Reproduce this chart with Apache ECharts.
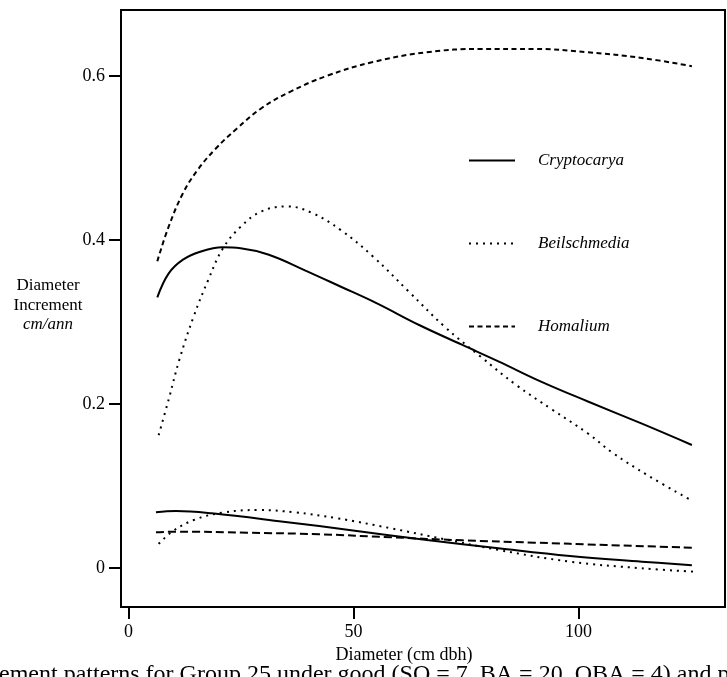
<!DOCTYPE html>
<html>
<head>
<meta charset="utf-8">
<script src="https://cdn.jsdelivr.net/npm/echarts@6/dist/echarts.min.js"></script>
<style>
  html, body { margin: 0; padding: 0; background: #fff; }
  #chart { width: 727px; height: 677px; }
</style>
</head>
<body>
<div id="chart"></div>
<script>
// diameter increment (cm/ann) against diameter (cm dbh)
// upper curves = good site, lower curves = poor site
const cryptoGood = [[6.4, 0.330], [8.9, 0.359], [12.1, 0.376], [16.1, 0.386], [20.9, 0.391], [24.9, 0.390], [31.2, 0.382], [39.2, 0.363], [47.2, 0.343], [55.1, 0.323], [64.7, 0.296], [74.2, 0.272], [82.2, 0.252], [91.8, 0.227], [102.1, 0.203], [114.1, 0.176], [125.2, 0.150]];
const beilGood = [[6.7, 0.162], [8.9, 0.205], [11.3, 0.254], [14.5, 0.307], [17.7, 0.351], [20.9, 0.389], [24.9, 0.416], [29.6, 0.435], [35.2, 0.441], [40.8, 0.433], [47.2, 0.412], [54.3, 0.380], [62.3, 0.337], [70.3, 0.294], [78.2, 0.258], [86.2, 0.223], [94.2, 0.193], [102.1, 0.164], [107.7, 0.140], [115.4, 0.113], [125.2, 0.082]];
const homaliumGood = [[6.4, 0.374], [8.9, 0.416], [12.1, 0.457], [15.3, 0.485], [19.3, 0.511], [24.1, 0.536], [29.6, 0.561], [36.0, 0.581], [44.0, 0.600], [54.3, 0.617], [66.3, 0.629], [78.2, 0.633], [90.2, 0.633], [102.1, 0.629], [114.1, 0.622], [125.2, 0.612]];

const cryptoPoor = [[6.1, 0.068], [10.5, 0.0695], [18.5, 0.0667], [34.4, 0.0565], [50.3, 0.0455], [66.3, 0.0341], [82.2, 0.024], [98.1, 0.0146], [114.1, 0.0077], [125.2, 0.0033]];
const beilPoor = [[6.7, 0.0293], [9.7, 0.0443], [14.5, 0.0585], [20.9, 0.0675], [28.8, 0.0707], [36.8, 0.0679], [46.4, 0.0606], [58.3, 0.0484], [70.3, 0.035], [82.2, 0.022], [98.1, 0.0077], [114.1, -0.0004], [125.6, -0.0045]];
const homaliumPoor = [[6.1, 0.0435], [10.5, 0.0443], [26.4, 0.043], [42.4, 0.0411], [58.3, 0.0374], [74.2, 0.0337], [90.2, 0.0309], [106.1, 0.028], [125.2, 0.0248]];

const species = ['Cryptocarya', 'Beilschmedia', 'Homalium'];
const xTicks = [0, 50, 100];
const yTicks = [0, 0.2, 0.4, 0.6];

const serif = 'Liberation Serif';
const solid = 'solid';
const dotted = [2, 5];
const dashed = [5, 3.5];
const dashedLong = [8, 4];

function curve(name, data, type) {
  return {
    name: name,
    type: 'line',
    data: data,
    symbol: 'none',
    smooth: 0.4,
    lineStyle: { color: '#000', width: 2, type: type },
    itemStyle: { color: '#000' }
  };
}

let myChart = echarts.init(document.getElementById('chart'));
myChart.setOption({
  animation: false,
  backgroundColor: '#fff',
  grid: {
    show: true,
    left: 121,
    top: 10,
    right: 2,
    bottom: 70,
    borderColor: '#000',
    borderWidth: 2
  },
  legend: {
    data: species,
    orient: 'vertical',
    left: 468,
    top: 152,
    padding: 0,
    itemWidth: 46,
    itemHeight: 14,
    itemGap: 66,
    itemStyle: { opacity: 0 },
    textStyle: {
      fontFamily: serif,
      fontStyle: 'italic',
      fontSize: 17,
      color: '#000',
      padding: [0, 0, 0, 18]
    }
  },
  xAxis: {
    type: 'value',
    min: -1.67,
    max: 132.56,
    axisLine: { show: false, onZero: false },
    splitLine: { show: false },
    axisTick: {
      customValues: xTicks,
      length: 12,
      lineStyle: { color: '#000', width: 2 }
    },
    axisLabel: {
      customValues: xTicks,
      margin: 16,
      fontFamily: serif,
      fontSize: 18,
      color: '#000'
    }
  },
  yAxis: {
    type: 'value',
    min: -0.0476,
    max: 0.6805,
    axisLine: { show: false, onZero: false },
    splitLine: { show: false },
    axisTick: {
      customValues: yTicks,
      length: 12,
      lineStyle: { color: '#000', width: 2 }
    },
    axisLabel: {
      customValues: yTicks,
      margin: 16,
      fontFamily: serif,
      fontSize: 18,
      color: '#000'
    }
  },
  graphic: [
    { type: 'text', x: 48, y: 286, style: { text: 'Diameter', font: '17px "Liberation Serif"', fill: '#000', align: 'center', verticalAlign: 'middle' } },
    { type: 'text', x: 48, y: 306, style: { text: 'Increment', font: '17px "Liberation Serif"', fill: '#000', align: 'center', verticalAlign: 'middle' } },
    { type: 'text', x: 48, y: 325, style: { text: 'cm/ann', font: 'italic 17px "Liberation Serif"', fill: '#000', align: 'center', verticalAlign: 'middle' } },
    { type: 'text', x: 404, y: 655, style: { text: 'Diameter (cm dbh)', font: '18px "Liberation Serif"', fill: '#000', align: 'center', verticalAlign: 'middle' } },
    { type: 'text', x: -1, y: 663, style: { text: 'ement patterns for Group 25 under good (SQ = 7, BA = 20, QBA = 4) and poor', font: '24px "Liberation Serif"', fill: '#000', align: 'left', verticalAlign: 'top' } }
  ],
  series: [
    curve('Cryptocarya', cryptoGood, solid),
    curve('Beilschmedia', beilGood, dotted),
    curve('Homalium', homaliumGood, dashed),
    curve('Cryptocarya', cryptoPoor, solid),
    curve('Beilschmedia', beilPoor, dotted),
    curve('Homalium', homaliumPoor, dashedLong)
  ]
});
</script>
</body>
</html>
